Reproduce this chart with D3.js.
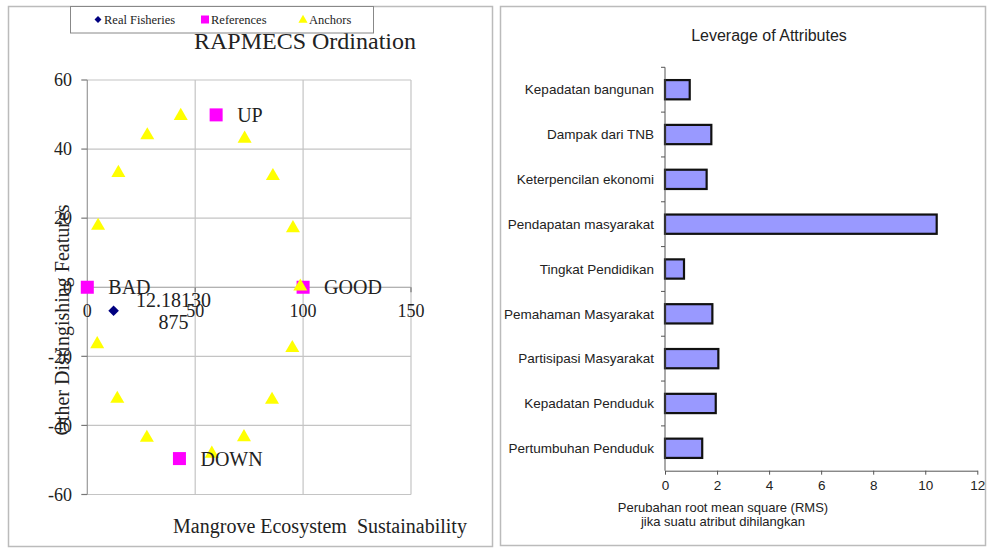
<!DOCTYPE html>
<html><head><meta charset="utf-8">
<script src="https://cdn.jsdelivr.net/npm/d3@7"></script>
<style>body{margin:0;background:#fff}svg{display:block}</style>
</head><body><svg id="c" width="990" height="550"></svg>
<script>
// ---------- Left chart data (RAPMECS Ordination) ----------
const anchorX = [43.3, 27.8, 14.4, 5.0, 4.6, 13.9, 27.6, 57.7, 72.6, 85.6, 95.0, 98.7, 95.3, 86.0, 72.9];
const anchorY = [49.9, 44.3, 33.4, 18.1, -16.2, -32.0, -43.3, -47.9, -43.1, -32.3, -17.3, 0.5, 17.4, 32.5, 43.3];
const refNames = ["BAD", "GOOD", "UP", "DOWN"];
const refX = [0, 100, 59.7, 42.7];
const refY = [0, 0, 49.9, -49.6];
const realX = [12.18130875];
const realY = [-6.8];
const realLabels = ["12.18130", "875"];
const xTicksL = [0, 50, 100, 150];
const yTicksL = [-60, -40, -20, 0, 20, 40, 60];
const legendNames = ["Real Fisheries", "References", "Anchors"];

// ---------- Right chart data (Leverage of Attributes) ----------
const attributes = ["Kepadatan bangunan", "Dampak dari TNB", "Keterpencilan ekonomi", "Pendapatan masyarakat",
  "Tingkat Pendidikan", "Pemahaman Masyarakat", "Partisipasi Masyarakat", "Kepadatan Penduduk", "Pertumbuhan Penduduk"];
const leverage = [0.95, 1.78, 1.60, 10.44, 0.73, 1.82, 2.05, 1.95, 1.43];
const xTicksR = [0, 2, 4, 6, 8, 10, 12];

const svg = d3.select("#c");
const serif = "'Liberation Serif','Times New Roman',serif";
const sans = "'Liberation Sans',Arial,sans-serif";

// panels
svg.append("rect").attr("x", 8.5).attr("y", 6.5).attr("width", 484).attr("height", 540)
  .attr("fill", "#fff").attr("stroke", "#bbb").attr("stroke-width", 1.5);
svg.append("rect").attr("x", 500.5).attr("y", 6.5).attr("width", 485).attr("height", 539)
  .attr("fill", "#fff").attr("stroke", "#bbb").attr("stroke-width", 1.5);

// ================= LEFT =================
const xL = d3.scaleLinear().domain([0, 150]).range([87.3, 411]);
const yL = d3.scaleLinear().domain([-60, 60]).range([494.5, 80]);
const gL = svg.append("g");

// grid
gL.selectAll(".hg").data(yTicksL).join("line")
  .attr("x1", xL(0)).attr("x2", xL(150)).attr("y1", d => yL(d)).attr("y2", d => yL(d))
  .attr("stroke", d => d === 0 ? "#999" : "#c4c4c4").attr("stroke-width", 1.2);
gL.selectAll(".vg").data(xTicksL).join("line")
  .attr("y1", yL(60)).attr("y2", yL(-60)).attr("x1", d => xL(d)).attr("x2", d => xL(d))
  .attr("stroke", d => d === 0 ? "#999" : "#c4c4c4").attr("stroke-width", 1.2);
// ticks
gL.selectAll(".yt").data(yTicksL).join("line")
  .attr("x1", xL(0) - 6).attr("x2", xL(0)).attr("y1", d => yL(d)).attr("y2", d => yL(d))
  .attr("stroke", "#777").attr("stroke-width", 1.2);
gL.selectAll(".xt").data(xTicksL).join("line")
  .attr("x1", d => xL(d)).attr("x2", d => xL(d)).attr("y1", yL(0)).attr("y2", yL(0) + 5)
  .attr("stroke", "#777").attr("stroke-width", 1.2);
gL.selectAll(".ytl").data(yTicksL).join("text")
  .attr("x", 72).attr("y", d => yL(d)).attr("dy", "0.35em").attr("text-anchor", "end")
  .attr("font-family", serif).attr("font-size", 18).attr("fill", "#222").text(d => d);
gL.selectAll(".xtl").data(xTicksL).join("text")
  .attr("x", d => xL(d)).attr("y", yL(0) + 30).attr("text-anchor", "middle")
  .attr("font-family", serif).attr("font-size", 18).attr("fill", "#222").text(d => d);

// references
const refs = refNames.map((n, i) => ({n, x: refX[i], y: refY[i]}));
gL.selectAll(".ref").data(refs).join("rect")
  .attr("x", d => xL(d.x) - 6.5).attr("y", d => yL(d.y) - 6.5).attr("width", 13).attr("height", 13)
  .attr("fill", "#ff00ff");
// anchors
const anchors = anchorX.map((x, i) => ({x, y: anchorY[i]}));
const tri = d3.symbol().type(d3.symbolTriangle).size(85);
gL.selectAll(".anc").data(anchors).join("path")
  .attr("d", tri).attr("transform", d => `translate(${xL(d.x)},${yL(d.y) + 1})`)
  .attr("fill", "#ffff00");
// real fisheries (diamond = square rotated 45deg)
const reals = realX.map((x, i) => ({x, y: realY[i]}));
gL.selectAll(".real").data(reals).join("path")
  .attr("d", d3.symbol().type(d3.symbolSquare).size(56))
  .attr("transform", d => `translate(${xL(d.x)},${yL(d.y)}) rotate(45)`).attr("fill", "#000080");
// reference labels
gL.selectAll(".refl").data(refs).join("text")
  .attr("x", d => xL(d.x) + 21).attr("y", d => yL(d.y)).attr("dy", "0.35em")
  .attr("font-family", serif).attr("font-size", 20).attr("fill", "#222").text(d => d.n);
// real label
const rl = gL.append("text").attr("font-family", serif).attr("font-size", 20).attr("fill", "#222")
  .attr("text-anchor", "middle");
realLabels.forEach((t, i) => {
  rl.append("tspan").attr("x", xL(realX[0]) + 60).attr("y", yL(realY[0]) - 4 + i * 22).text(t);
});

// titles
gL.append("text").attr("x", 305).attr("y", 49).attr("text-anchor", "middle")
  .attr("font-family", serif).attr("font-size", 24).attr("fill", "#222").text("RAPMECS Ordination");
gL.append("text").attr("x", 320).attr("y", 533).attr("text-anchor", "middle")
  .attr("font-family", serif).attr("font-size", 20).attr("fill", "#222").attr("xml:space", "preserve")
  .text("Mangrove Ecosystem  Sustainability");
gL.append("text").attr("transform", "translate(69,320) rotate(-90)").attr("text-anchor", "middle")
  .attr("font-family", serif).attr("font-size", 20).attr("fill", "#222")
  .text("Other Distingishing Features");

// legend
const lg = svg.append("g");
lg.append("rect").attr("x", 70.5).attr("y", 6.5).attr("width", 303).attr("height", 26.5)
  .attr("fill", "#fff").attr("stroke", "#888").attr("stroke-width", 1);
const legX = [98, 205, 303];
lg.append("path").attr("d", d3.symbol().type(d3.symbolSquare).size(24)).attr("transform", `translate(${legX[0]},19.5) rotate(45)`).attr("fill", "#000080");
lg.append("rect").attr("x", legX[1] - 4).attr("y", 15.5).attr("width", 8).attr("height", 8).attr("fill", "#ff00ff");
lg.append("path").attr("d", d3.symbol().type(d3.symbolTriangle).size(36)).attr("transform", `translate(${legX[2]},20)`).attr("fill", "#ffff00");
lg.selectAll(".lt").data(legendNames).join("text")
  .attr("x", (d, i) => legX[i] + 6).attr("y", 20).attr("dy", "0.35em")
  .attr("font-family", serif).attr("font-size", 12.5).attr("fill", "#222").text(d => d);

// ================= RIGHT =================
const xR = d3.scaleLinear().domain([0, 12]).range([665, 977.3]);
const yR = d3.scaleBand().domain(attributes).range([67.3, 470.7]).padding(0);
const bw = yR.bandwidth();
const gR = svg.append("g");

gR.append("text").attr("x", 769).attr("y", 35).attr("dy", "0.35em").attr("text-anchor", "middle")
  .attr("font-family", sans).attr("font-size", 16).attr("fill", "#222").text("Leverage of Attributes");

// bars
gR.selectAll(".bar").data(attributes).join("rect")
  .attr("x", xR(0)).attr("y", d => yR(d) + bw * 0.285).attr("height", bw * 0.43)
  .attr("width", (d, i) => xR(leverage[i]) - xR(0))
  .attr("fill", "#9999ff").attr("stroke", "#111").attr("stroke-width", 2.2);

// y axis
gR.append("line").attr("x1", xR(0)).attr("x2", xR(0)).attr("y1", 67.3).attr("y2", 470.7)
  .attr("stroke", "#555").attr("stroke-width", 1);
const bounds = attributes.map(d => yR(d));
gR.selectAll(".ytk").data(bounds).join("line")
  .attr("x1", xR(0) - 4).attr("x2", xR(0)).attr("y1", d => d).attr("y2", d => d)
  .attr("stroke", "#555").attr("stroke-width", 1);
gR.selectAll(".ylab").data(attributes).join("text")
  .attr("x", 654).attr("y", d => yR(d) + bw / 2).attr("dy", "0.35em").attr("text-anchor", "end")
  .attr("font-family", sans).attr("font-size", 13.5).attr("fill", "#222").text(d => d);

// x axis
const xAxis = gR.append("g").attr("transform", "translate(0,470.7)")
  .call(d3.axisBottom(xR).tickValues(xTicksR).tickSize(4).tickPadding(6).tickSizeOuter(0));
xAxis.select(".domain").attr("stroke", "#555");
xAxis.selectAll(".tick line").attr("stroke", "#555");
xAxis.selectAll("text").attr("font-family", sans).attr("font-size", 13.5).attr("fill", "#222");

gR.append("text").attr("x", 723).attr("y", 507).attr("dy", "0.35em").attr("text-anchor", "middle")
  .attr("font-family", sans).attr("font-size", 13).attr("fill", "#222").text("Perubahan root mean square (RMS)");
gR.append("text").attr("x", 723).attr("y", 521).attr("dy", "0.35em").attr("text-anchor", "middle")
  .attr("font-family", sans).attr("font-size", 13).attr("fill", "#222").text("jika suatu atribut dihilangkan");
</script></body></html>
